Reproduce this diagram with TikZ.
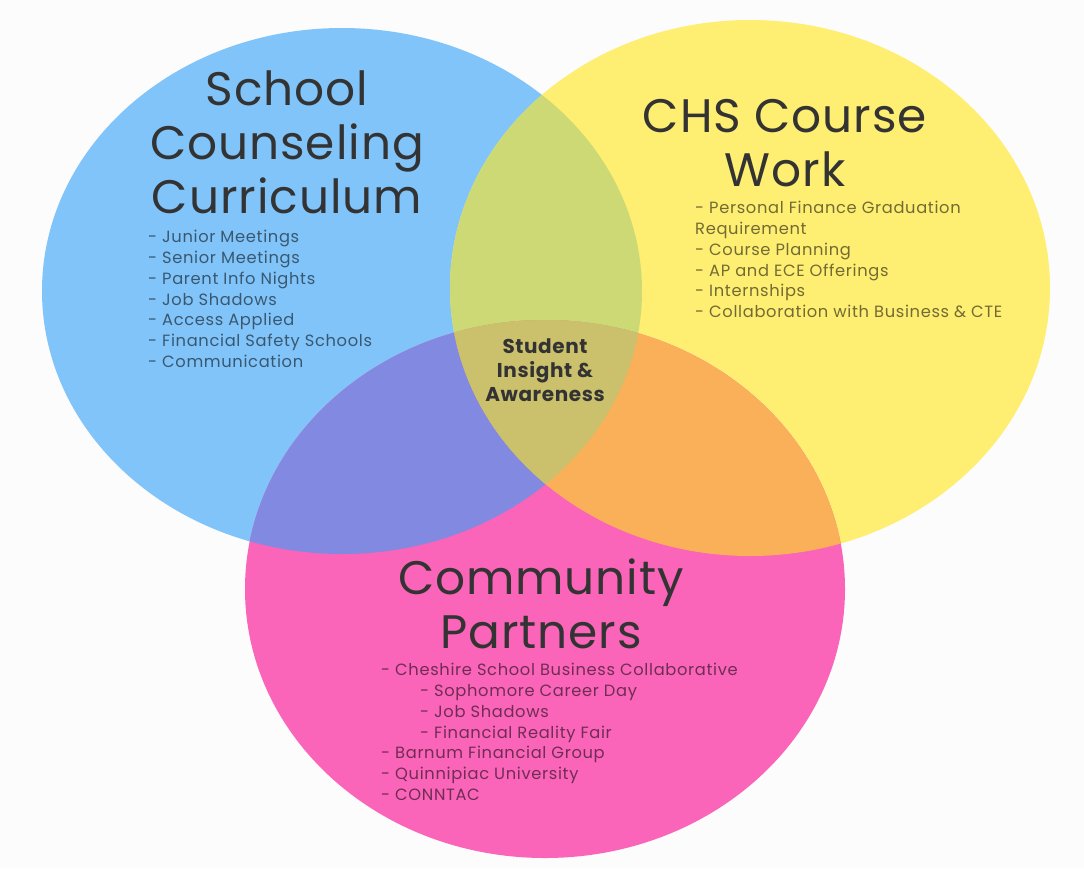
\documentclass[tikz,border=0pt]{standalone}
\usepackage{fontspec}
\setmainfont{Poppins}
\usetikzlibrary{positioning}
\definecolor{bgcol}{RGB}{252,252,252}
\definecolor{skyblue}{RGB}{128,196,250}
\definecolor{lemon}{RGB}{254,238,114}
\definecolor{rose}{RGB}{250,100,185}
\definecolor{lime}{RGB}{205,217,116}
\definecolor{violet}{RGB}{129,137,224}
\definecolor{peach}{RGB}{250,176,89}
\definecolor{olive}{RGB}{203,192,108}
\definecolor{inkcol}{RGB}{51,51,51}
\tikzset{
  title/.style={inner sep=0pt,align=center,text=inkcol,
    font=\addfontfeature{LetterSpace=2}\fontsize{47}{54}\selectfont},
  items/.style={inner sep=0pt,align=left,text=black,text opacity=0.55,
    font=\addfontfeature{LetterSpace=4}\fontsize{16.3}{20.8}\selectfont},
  core/.style={inner sep=0pt,align=center,text=inkcol,
    font=\bfseries\addfontfeature{LetterSpace=3}\fontsize{20}{24}\selectfont}
}
\begin{document}
\begin{tikzpicture}[x=1pt,y=-1pt]
    \coordinate (Blue)   at (342,291);
    \coordinate (Yellow) at (750,288);
    \coordinate (Pink)   at (545,589);

    \fill[bgcol] (0,0) rectangle (1084,868);
    \useasboundingbox (0,0) rectangle (1084,868);

    % the three circles
    \fill[skyblue] (Blue) ellipse [x radius=300pt,y radius=263pt];
    \fill[lemon] (Yellow) ellipse [x radius=300pt,y radius=268pt];
    \fill[rose] (Pink) ellipse [x radius=300pt,y radius=269pt];
    % overlaps, two at a time...
    \begin{scope}
      \clip (Blue) ellipse [x radius=300pt,y radius=263pt];
      \fill[lime] (Yellow) ellipse [x radius=300pt,y radius=268pt];
      \fill[violet] (Pink) ellipse [x radius=300pt,y radius=269pt];
    \end{scope}
    \begin{scope}
      \clip (Yellow) ellipse [x radius=300pt,y radius=268pt];
      \fill[peach] (Pink) ellipse [x radius=300pt,y radius=269pt];
    \end{scope}
    % ...and all three
    \begin{scope}
      \clip (Blue) ellipse [x radius=300pt,y radius=263pt];
      \clip (Yellow) ellipse [x radius=300pt,y radius=268pt];
      \fill[olive] (Pink) ellipse [x radius=300pt,y radius=269pt];
    \end{scope}

    \node[title] (counseling) at (287,142) {School\\Counseling\\Curriculum};
    \node[items,anchor=north west] (counselinglist) at (148,230)
      {- Junior Meetings\\- Senior Meetings\\- Parent Info Nights\\- Job Shadows\\
       - Access Applied\\- Financial Safety Schools\\- Communication};

    \node[title] (course) at (785,143) {CHS Course\\Work};
    \node[items,anchor=north west] (courselist) at (695,201)
      {- Personal Finance Graduation\\Requirement\\- Course Planning\\
       - AP and ECE Offerings\\- Internships\\- Collaboration with Business \& CTE};

    \node[core] (insight) at (545,370) {Student\\Insight \&\\Awareness};

    \node[title] (partners) at (541,604) {Community\\Partners};
    \node[items,anchor=north west] (partnerlist) at (381,663)
      {- Cheshire School Business Collaborative\\
       \hspace*{39pt}- Sophomore Career Day\\
       \hspace*{39pt}- Job Shadows\\
       \hspace*{39pt}- Financial Reality Fair\\
       - Barnum Financial Group\\- Quinnipiac University\\- CONNTAC};
\end{tikzpicture}
\end{document}
